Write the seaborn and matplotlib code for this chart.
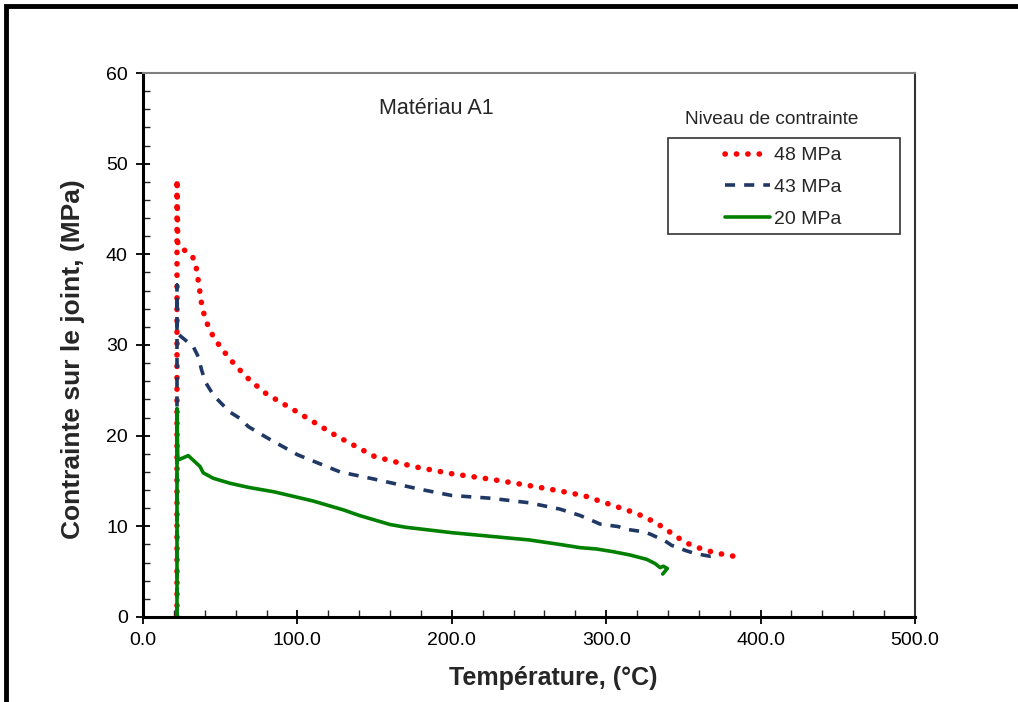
import numpy as np
import pandas as pd
import matplotlib
matplotlib.use("Agg")
import matplotlib.pyplot as plt
from matplotlib.patches import Rectangle
from matplotlib.ticker import MultipleLocator, FormatStrFormatter
import seaborn as sns

# --- Data ---
# 48 MPa (red dotted)
temp_48 = [22, 22, 22.5, 26.5, 32, 34.4, 35.6, 36.7, 37.8, 39.5, 41.9, 45.3, 49.6, 54.2,
           59.1, 64.6, 69.3, 80, 100, 125, 150, 175, 200, 225, 250, 270, 282, 289.5,
           296.8, 304.2, 311, 318.7, 325.6, 332.2, 338.7, 345.2, 351.5, 358.6, 365.7,
           373, 380.8, 388]
stress_48 = [0, 48.3, 41, 40.5, 39.8, 38.6, 37.3, 36, 34.7, 33.4, 32.2, 31.0, 29.9, 28.9,
             27.9, 26.9, 26.1, 24.6, 22.6, 20.0, 17.7, 16.6, 15.8, 15.2, 14.5, 13.9, 13.5,
             13.2, 12.7, 12.35, 11.9, 11.5, 10.95, 10.4, 9.67, 8.9, 8.2, 7.7, 7.3, 7.0,
             6.77, 6.47]

# 43 MPa (navy dashed)
temp_43 = [22, 22, 22, 27, 32.6, 35.8, 38, 40.8, 45.5, 49.9, 56.3, 62.8, 68.2, 80, 100,
           127.6, 150, 179, 200, 225, 250, 270, 283, 292.7, 296, 307.9, 312, 324, 328.4,
           338, 342.4, 352, 357.5, 367.2, 373.7]
stress_43 = [0, 36.6, 31.3, 30.6, 29.8, 28.7, 27.2, 25.8, 24.5, 23.7, 22.6, 21.9, 21.0, 19.8,
             17.9, 16.0, 15.2, 14.1, 13.4, 13.1, 12.6, 11.9, 11.2, 10.5, 10.25, 9.97, 9.7,
             9.4, 9.15, 8.4, 7.9, 7.3, 7.0, 6.7, 6.8]

# 20 MPa (green solid)
temp_20 = [22, 22, 22.5, 29.3, 36.9, 39, 45.5, 56.3, 68.2, 85, 100, 110, 120, 130, 140, 150,
           160, 170, 185, 200, 225, 250, 270, 283, 293.8, 304.6, 315.4, 326.2, 331.6, 334.9,
           337, 339.6, 336.6]
stress_20 = [0, 23.0, 17.3, 17.8, 16.6, 15.9, 15.3, 14.75, 14.3, 13.8, 13.2, 12.8, 12.3, 11.8,
             11.2, 10.7, 10.2, 9.9, 9.6, 9.3, 8.9, 8.5, 8.0, 7.65, 7.5, 7.2, 6.84, 6.36, 5.9,
             5.45, 5.6, 5.35, 4.74]

labels = ["48 MPa", "43 MPa", "20 MPa"]

df = pd.concat([
    pd.DataFrame({"temp": temp_48, "stress": stress_48, "niveau": labels[0]}),
    pd.DataFrame({"temp": temp_43, "stress": stress_43, "niveau": labels[1]}),
    pd.DataFrame({"temp": temp_20, "stress": stress_20, "niveau": labels[2]}),
])

sns.set_style("white")
plt.rcParams["font.family"] = ["Liberation Sans", "DejaVu Sans"]

fig = plt.figure(figsize=(10.18, 7.02), dpi=100)
ax = fig.add_axes([0.1405, 0.1211, 0.7583, 0.7749])

colors = {"48 MPa": "#FF0000", "43 MPa": "#1F3864", "20 MPa": "#008000"}
styles = {
    "48 MPa": dict(linestyle=(0, (0.05, 2.0)), linewidth=4.0, dash_capstyle="round"),
    "43 MPa": dict(linestyle=(0, (2.8, 2.5)), linewidth=2.6),
    "20 MPa": dict(linestyle="-", linewidth=2.6),
}

for name in labels:
    sub = df[df["niveau"] == name]
    sns.lineplot(data=sub, x="temp", y="stress", sort=False, estimator=None, ax=ax,
                 color=colors[name], label=name, **styles[name])

ax.set_xlim(0, 500)
ax.set_ylim(0, 60)
ax.xaxis.set_major_locator(MultipleLocator(100))
ax.xaxis.set_minor_locator(MultipleLocator(20))
ax.yaxis.set_major_locator(MultipleLocator(10))
ax.yaxis.set_minor_locator(MultipleLocator(2))
ax.xaxis.set_major_formatter(FormatStrFormatter("%.1f"))
ax.tick_params(which="major", direction="inout", length=10, width=1.3, labelsize=14,
               colors="black", pad=6)
ax.tick_params(which="minor", direction="in", length=5, width=1.0)
ax.tick_params(axis="x", which="both", bottom=True)
ax.tick_params(axis="y", which="both", left=True)

for side in ["left", "bottom"]:
    ax.spines[side].set_color("black")
    ax.spines[side].set_linewidth(2.2)
ax.spines["top"].set_color("#808080")
ax.spines["top"].set_linewidth(1.5)
ax.spines["right"].set_color("#333333")
ax.spines["right"].set_linewidth(1.5)

ax.set_xlabel("Température, (°C)", fontsize=18, fontweight="bold")
ax.set_ylabel("Contrainte sur le joint, (MPa)", fontsize=19, fontweight="bold")
ax.xaxis.set_label_coords(0.531, -0.09)
ax.yaxis.set_label_coords(-0.075, 0.474)

ax.text(190, 56.1, "Matériau A1", fontsize=15.5, ha="center", va="center")

# legend: entries without frame, box and title drawn separately like the original
leg = ax.legend(loc="upper left", bbox_to_anchor=(0.743, 0.8805), fontsize=14,
                frameon=False, handlelength=2.3, handletextpad=0.2,
                borderpad=0.45, labelspacing=0.72, borderaxespad=0)
ax.add_patch(Rectangle((0.680, 0.704), 0.3006, 0.1765, transform=ax.transAxes,
                       fill=False, edgecolor="#333333", linewidth=1.2, zorder=5))
ax.text(0.702, 0.915, "Niveau de contrainte", transform=ax.transAxes, fontsize=13.7,
        ha="left", va="center")

# outer frame of the original picture
fig.patches.append(Rectangle((6 / 1018, -0.05), 1.2, 1 - 6 / 702 + 0.05, transform=fig.transFigure,
                             fill=False, edgecolor="black", linewidth=3.5))

fig.savefig("out.png", dpi=100)
